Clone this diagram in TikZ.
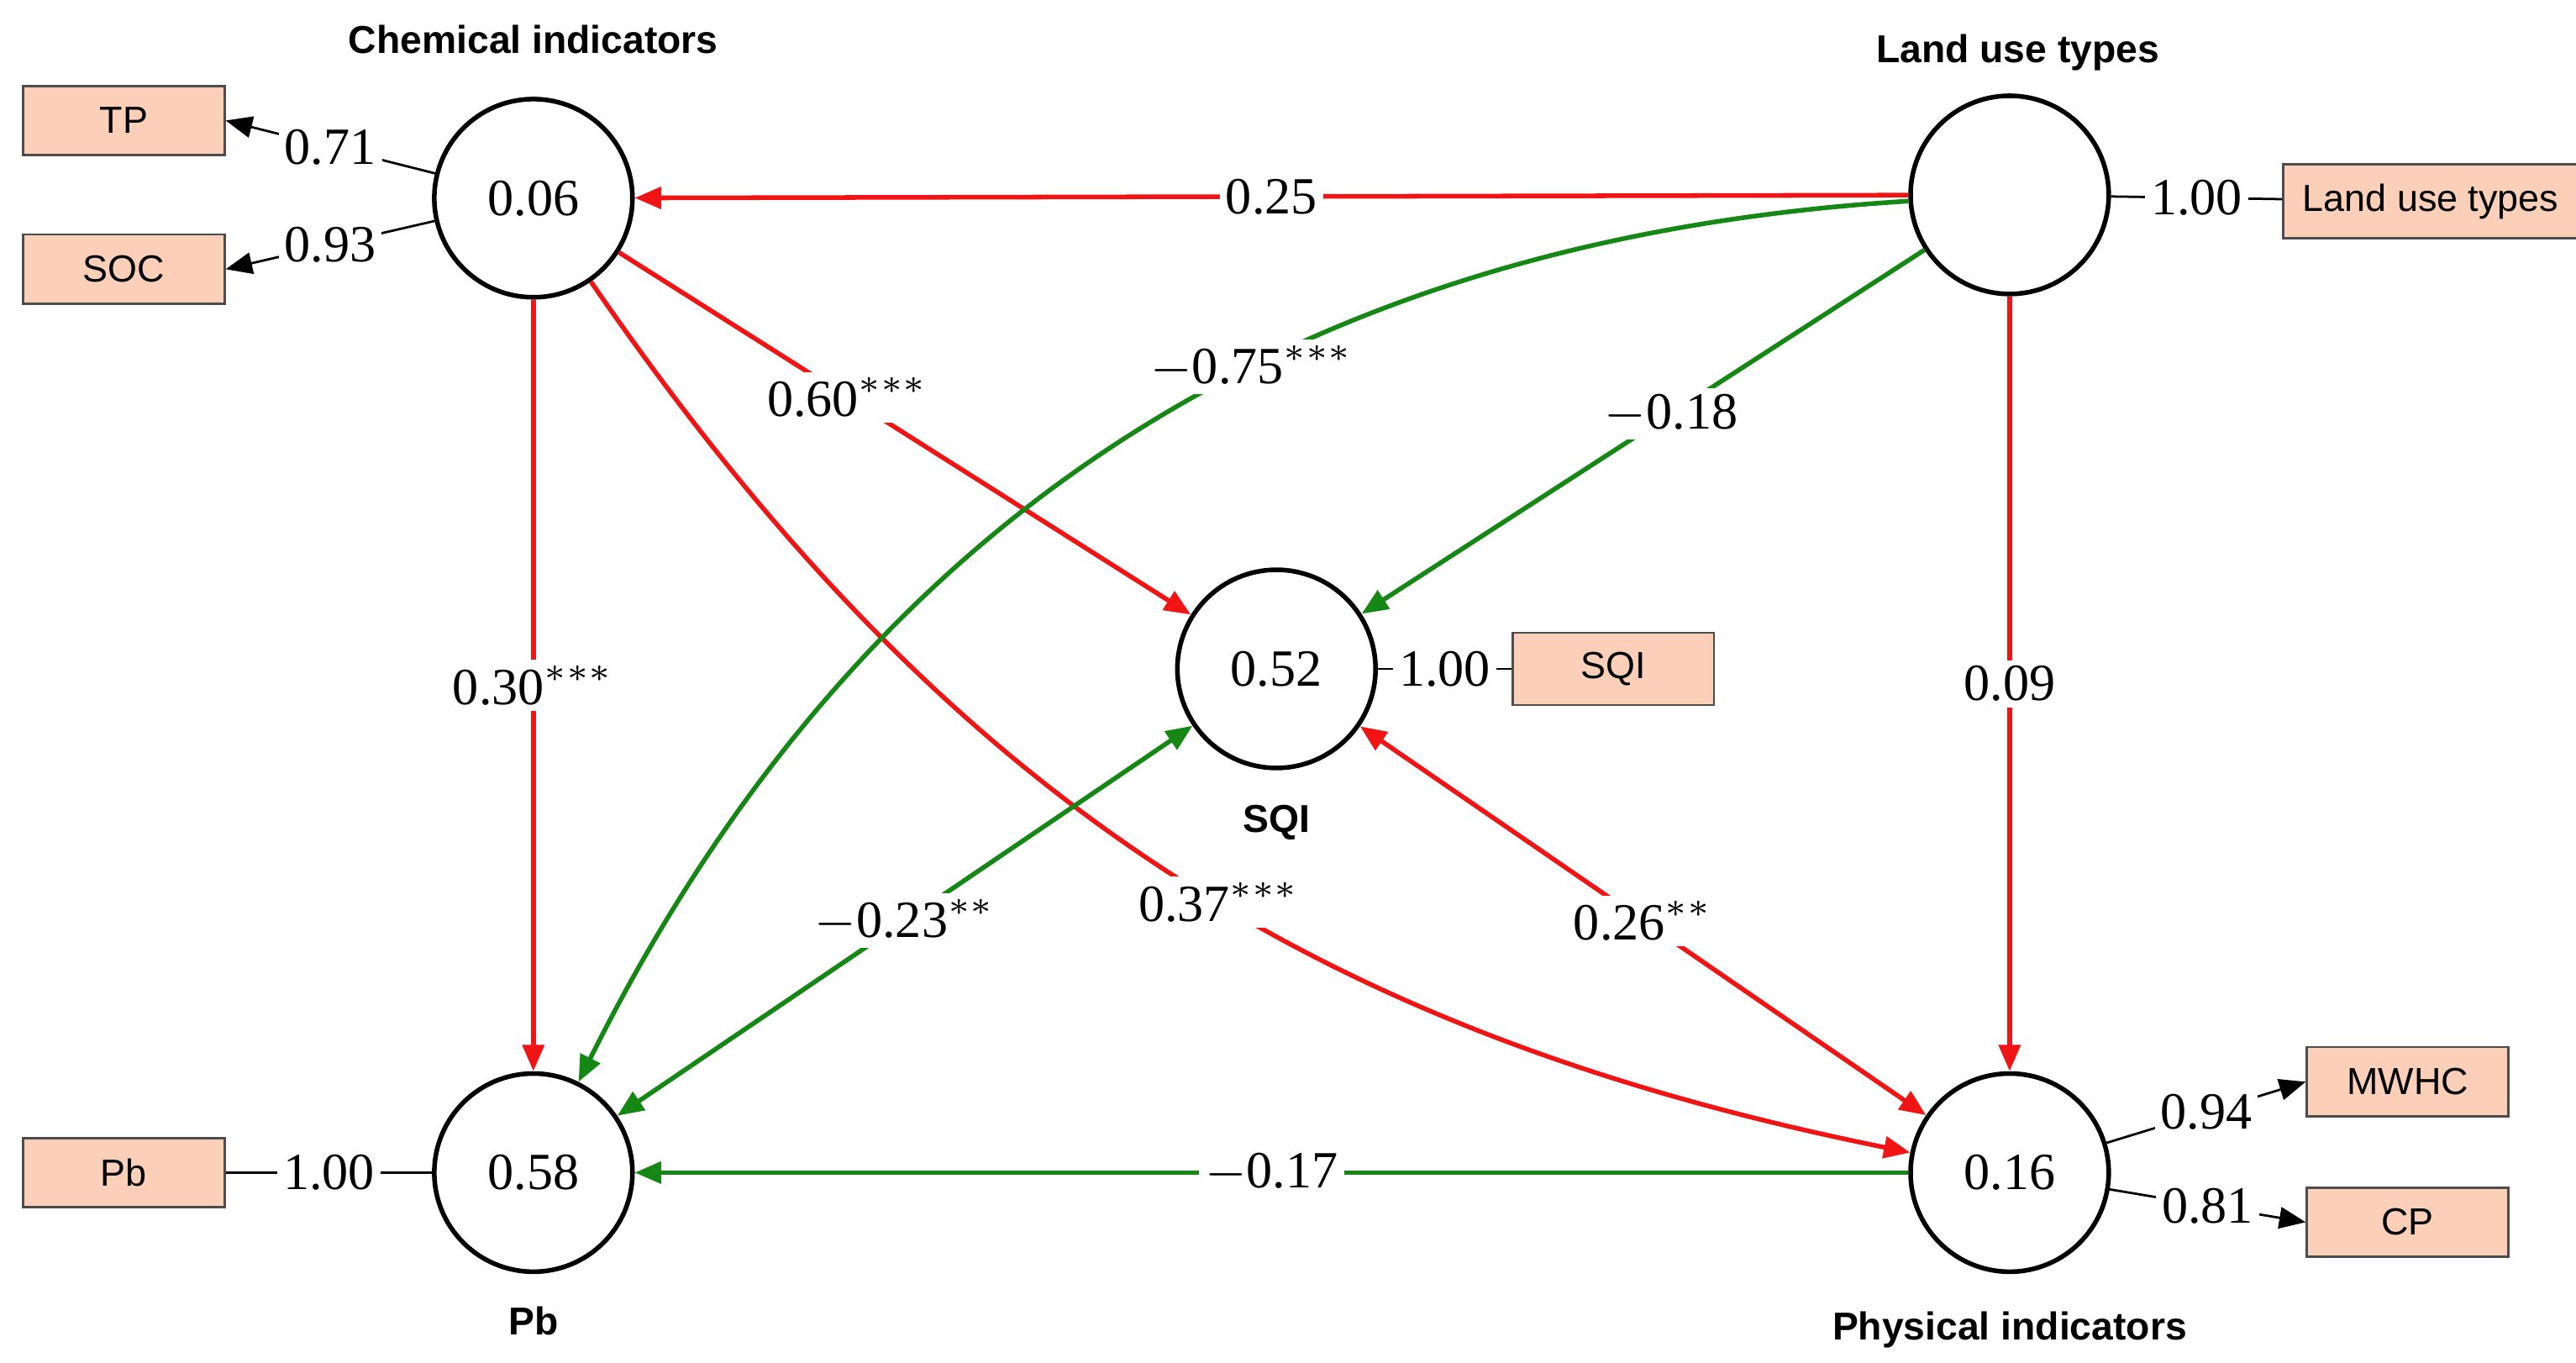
\documentclass[tikz,border=0pt]{standalone}
\usepackage{fontspec}
\setmainfont{Liberation Serif}
\newfontfamily\boxfont{Liberation Sans}
\usetikzlibrary{arrows.meta}
\definecolor{peach}{RGB}{252,207,184}
\definecolor{pathred}{RGB}{240,20,20}
\definecolor{pathgreen}{RGB}{20,135,20}

\begin{document}
\begin{tikzpicture}[
    lv/.style={circle, draw, thick, minimum size=1.2cm, inner sep=0pt, font=\fontsize{9}{9}\selectfont},
    mv/.style={rectangle, draw=black!70, fill=peach, minimum width=1.22cm, minimum height=0.42cm, font=\boxfont\fontsize{6.5}{7}\selectfont},
    ttl/.style={font=\boxfont\bfseries\fontsize{6.7}{8}\selectfont},
    lab/.style={fill=white, text=black, inner sep=1pt, font=\fontsize{9}{9}\selectfont},
    tip/.style={-{Triangle[length=1.6mm,width=1.3mm]}},
    both/.style={{Triangle[length=1.6mm,width=1.3mm]}-{Triangle[length=1.6mm,width=1.3mm]}},
    red/.style={pathred, thick},
    green/.style={pathgreen, thick}
]
\useasboundingbox (0,0) rectangle (15.6,8.25);

% Latent variables
\node[lv] (chem) at (3.23,7.05) {0.06};
\node[lv] (land) at (12.17,7.07) {};
\node[lv] (sqi)  at (7.73,4.20) {0.52};
\node[lv] (pb)   at (3.23,1.15) {0.58};
\node[lv] (phys) at (12.17,1.15) {0.16};

\node[ttl] at (3.23,8.01) {Chemical indicators};
\node[ttl] at (12.22,7.93) {Land use types};
\node[ttl] at (7.73,3.27) {SQI};
\node[ttl] at (3.23,0.25) {Pb};
\node[ttl] at (12.17,0.20) {Physical indicators};

% Indicators
\node[mv] (tp)   at (0.75,7.52) {TP};
\node[mv] (soc)  at (0.75,6.62) {SOC};
\node[mv] (pbm)  at (0.75,1.15) {Pb};
\node[mv, minimum width=1.55cm] (lut) at (14.72,7.03) {Land use types};
\node[mv] (sqim) at (9.77,4.20) {SQI};
\node[mv] (mwhc) at (14.58,1.70) {MWHC};
\node[mv] (cp)   at (14.58,0.85) {CP};

% Loadings
\draw[tip] (chem) -- node[lab] {0.71} (tp.east);
\draw[tip] (chem) -- node[lab] {0.93} (soc.east);
\draw (pb) -- node[lab] {1.00} (pbm);
\draw (land) -- node[lab] {1.00} (lut);
\draw (sqi) -- node[lab] {1.00} (sqim);
\draw[tip] (phys) -- node[lab] {0.94} (mwhc.west);
\draw[tip] (phys) -- node[lab] {0.81} (cp.west);

% Paths
\draw[tip, red] (land) -- node[lab] {0.25} (chem);
\draw[tip, red] (chem) -- node[lab, pos=0.4] {0.60$^{***}$} (sqi);
\draw[tip, red] (chem) -- node[lab] {0.30$^{***}$} (pb);
\draw[tip, red] (chem) to[bend right=22] node[lab, pos=0.55] {0.37$^{***}$} (phys);
\draw[tip, green] (land) to[bend right=30] node[lab, pos=0.4] {$-$0.75$^{***}$} (pb);
\draw[tip, green] (land) -- node[lab, pos=0.45] {$-$0.18} (sqi);
\draw[tip, red] (land) -- node[lab] {0.09} (phys);
\draw[both, green] (pb) -- node[lab] {$-$0.23$^{**}$} (sqi);
\draw[both, red] (phys) -- node[lab] {0.26$^{**}$} (sqi);
\draw[tip, green] (phys) -- node[lab] {$-$0.17} (pb);
\end{tikzpicture}
\end{document}
